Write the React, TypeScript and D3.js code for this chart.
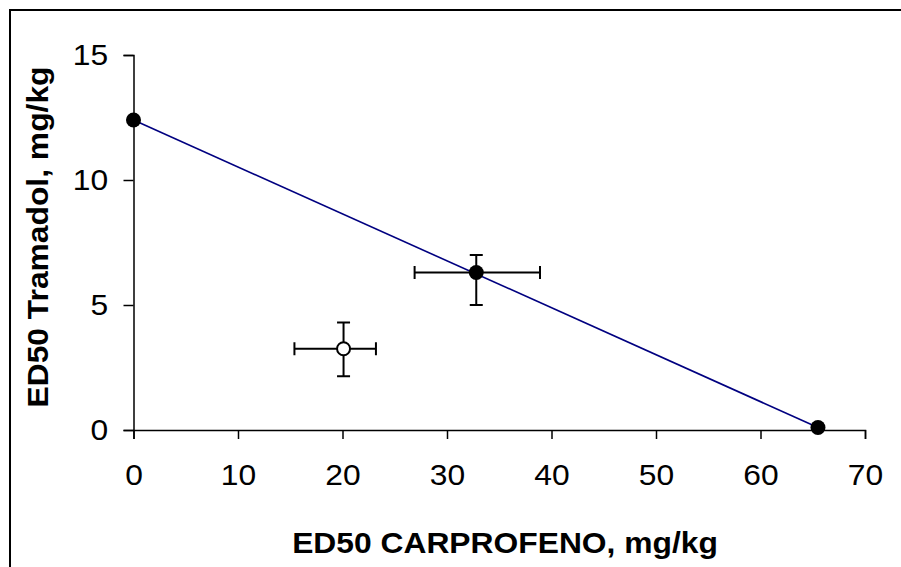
import React, { useEffect, useRef } from 'react';
import * as d3 from 'd3';

// filled points (combination line endpoints and theoretical point)
const filledX = [0, 32.8, 65.5];
const filledY = [12.4, 6.3, 0.1];
// experimental point (open circle)
const openX = [20.1];
const openY = [3.25];
// error bars
const errX = [32.8, 20.1];
const errY = [6.3, 3.25];
const errXLow = [26.9, 15.4];
const errXHigh = [38.9, 23.2];
const errYLow = [5.0, 2.15];
const errYHigh = [7.0, 4.3];
// additivity line
const lineX = [0, 65.5];
const lineY = [12.4, 0.1];

const xTicks = [0, 10, 20, 30, 40, 50, 60, 70];
const yTicks = [0, 5, 10, 15];

const W = 901;
const H = 567;

export default function App() {
  const ref = useRef<SVGSVGElement>(null);

  useEffect(() => {
    const svg = d3.select(ref.current);
    svg.selectAll('*').remove();

    const x = d3.scaleLinear().domain([0, 70]).range([133.5, 865]);
    const y = d3.scaleLinear().domain([0, 15]).range([430, 55]);
    const font = '"Liberation Sans", Arial, sans-serif';
    const stretch = 'scale(1.06,1)';

    // outer frame
    svg
      .append('rect')
      .attr('x', 10)
      .attr('y', 10)
      .attr('width', W)
      .attr('height', H)
      .attr('fill', 'none')
      .attr('stroke', '#000')
      .attr('stroke-width', 2);

    const xAxis = svg
      .append('g')
      .attr('transform', 'translate(0,' + y(0) + ')')
      .call(d3.axisBottom(x).tickValues(xTicks).tickSize(9).tickSizeOuter(9).tickPadding(25));
    const yAxis = svg
      .append('g')
      .attr('transform', 'translate(' + x(0) + ',0)')
      .call(d3.axisLeft(y).tickValues(yTicks).tickSize(10).tickSizeOuter(10).tickPadding(14));

    for (const ax of [xAxis, yAxis]) {
      ax.select('.domain').attr('stroke', '#000').attr('stroke-width', 1.5);
      ax.selectAll('.tick line').attr('stroke', '#000').attr('stroke-width', 1.5);
      ax.selectAll('text')
        .attr('fill', '#000')
        .attr('transform', stretch)
        .style('font-family', font)
        .style('font-size', '30px');
    }

    // additivity line
    const line = d3
      .line<number>()
      .x((d, i) => x(lineX[i]))
      .y((d, i) => y(lineY[i]));
    svg
      .append('path')
      .attr('d', line(lineX))
      .attr('fill', 'none')
      .attr('stroke', '#000080')
      .attr('stroke-width', 1.6);

    // error bars
    const cap = 6.5;
    const eb = svg.append('g').attr('stroke', '#000').attr('stroke-width', 2);
    errX.forEach((ex, i) => {
      const cx = x(ex);
      const cy = y(errY[i]);
      const x1 = x(errXLow[i]);
      const x2 = x(errXHigh[i]);
      const y1 = y(errYLow[i]);
      const y2 = y(errYHigh[i]);
      eb.append('line').attr('x1', x1).attr('x2', x2).attr('y1', cy).attr('y2', cy);
      eb.append('line').attr('x1', x1).attr('x2', x1).attr('y1', cy - cap).attr('y2', cy + cap);
      eb.append('line').attr('x1', x2).attr('x2', x2).attr('y1', cy - cap).attr('y2', cy + cap);
      eb.append('line').attr('x1', cx).attr('x2', cx).attr('y1', y1).attr('y2', y2);
      eb.append('line').attr('x1', cx - cap).attr('x2', cx + cap).attr('y1', y1).attr('y2', y1);
      eb.append('line').attr('x1', cx - cap).attr('x2', cx + cap).attr('y1', y2).attr('y2', y2);
    });

    // filled points
    svg
      .append('g')
      .selectAll('circle')
      .data(filledX)
      .enter()
      .append('circle')
      .attr('cx', (d) => x(d))
      .attr('cy', (d, i) => y(filledY[i]))
      .attr('r', 7.5)
      .attr('fill', '#000');

    // open point
    svg
      .append('g')
      .selectAll('circle')
      .data(openX)
      .enter()
      .append('circle')
      .attr('cx', (d) => x(d))
      .attr('cy', (d, i) => y(openY[i]))
      .attr('r', 6.5)
      .attr('fill', '#fff')
      .attr('stroke', '#000')
      .attr('stroke-width', 2);

    // axis titles
    svg
      .append('text')
      .attr('transform', 'translate(505,553) ' + stretch)
      .style('font-family', font)
      .style('font-size', '30px')
      .style('font-weight', 'bold')
      .style('text-anchor', 'middle')
      .text('ED50 CARPROFENO, mg/kg');

    svg
      .append('text')
      .attr('transform', 'translate(48,237) rotate(-90) ' + stretch)
      .style('font-family', font)
      .style('font-size', '30px')
      .style('font-weight', 'bold')
      .style('text-anchor', 'middle')
      .text('ED50 Tramadol, mg/kg');
  }, []);

  return (
    <svg
      ref={ref}
      width={W}
      height={H}
      style={{ position: 'absolute', left: 0, top: 0, background: '#fff' }}
    />
  );
}
